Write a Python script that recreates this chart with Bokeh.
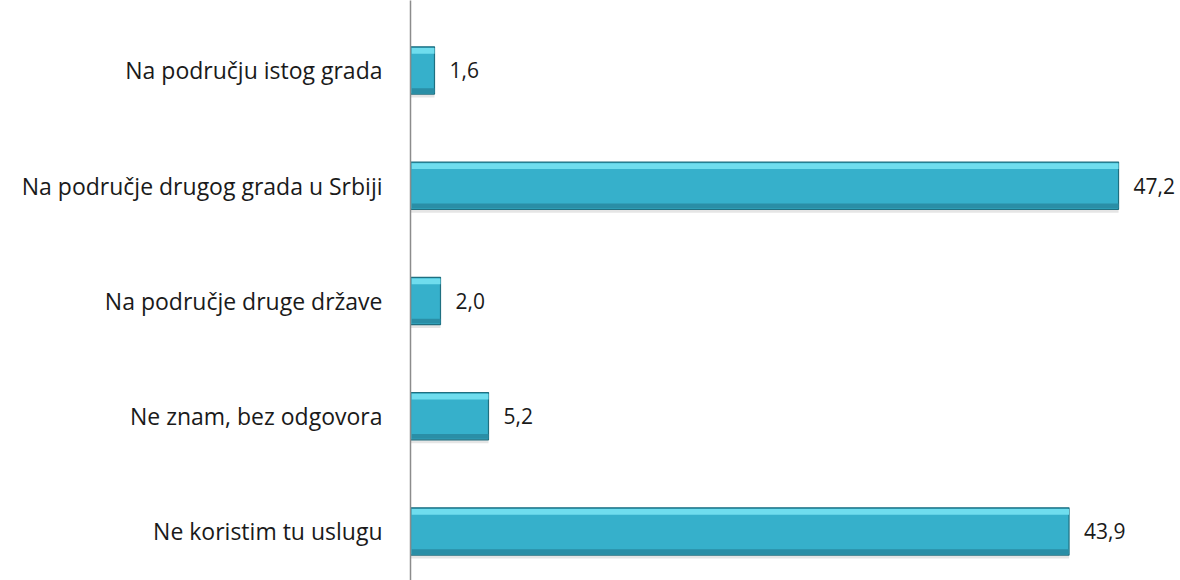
from bokeh.plotting import figure
from bokeh.models import ColumnDataSource, Range1d, FixedTicker
from bokeh.embed import file_html
from bokeh.resources import INLINE
from bokeh.core.properties import value

categories = [
    "Na području istog grada",
    "Na područje drugog grada u Srbiji",
    "Na područje druge države",
    "Ne znam, bez odgovora",
    "Ne koristim tu uslugu",
]
values = [1.6, 47.2, 2.0, 5.2, 43.9]
value_labels = ["1,6", "47,2", "2,0", "5,2", "43,9"]

n = len(categories)
ypos = [n - i for i in range(n)]  # top category at highest position

src = ColumnDataSource(dict(
    y=ypos, v=values, lab=value_labels, cat=categories,
    y_shadow=[y - 0.03 for y in ypos],
    y_top=[y + 0.17 for y in ypos],
    y_bot=[y - 0.175 for y in ypos],
))

FONT = "Open Sans"

p = figure(width=1180, height=580, output_backend="svg", toolbar_location=None,
           x_range=Range1d(0, 51.33), y_range=Range1d(0.574, 5.607),
           min_border_left=410, min_border_right=0, min_border_top=0, min_border_bottom=0)
p.outline_line_color = None
p.background_fill_color = "white"
p.border_fill_color = "white"
p.xgrid.visible = False
p.ygrid.visible = False
p.xaxis.visible = False

# shadow
p.hbar(y="y_shadow", left=0, right="v", height=0.41, source=src,
       fill_color="#000000", fill_alpha=0.10, line_color=None)
# main bar
p.hbar(y="y", left=0, right="v", height=0.41, source=src,
       fill_color="#36B0CB", line_color="#1F6F80", line_width=1.2)
# top highlight
p.hbar(y="y_top", left=0.08, right="v", height=0.05, source=src,
       fill_color="#6FDDEE", line_color=None)
# bottom shade
p.hbar(y="y_bot", left=0.08, right="v", height=0.04, source=src,
       fill_color="#2A8EA6", line_color=None)

p.text(x="v", y="y", text="lab", source=src, x_offset=15,
       text_align="left", text_baseline="middle",
       text_font=value(FONT), text_font_size="21px", text_color="#1a1a1a")

ax = p.yaxis[0]
ax.ticker = FixedTicker(ticks=ypos)
ax.major_label_overrides = {y: c for y, c in zip(ypos, categories)}
ax.major_tick_line_color = None
ax.minor_tick_line_color = None
ax.axis_line_color = "#8C8C8C"
ax.axis_line_width = 1.5
ax.major_label_standoff = 22
ax.major_label_text_font = FONT
ax.major_label_text_font_size = "23px"
ax.major_label_text_color = "#1a1a1a"

open("out.html", "w").write(file_html(p, INLINE))
